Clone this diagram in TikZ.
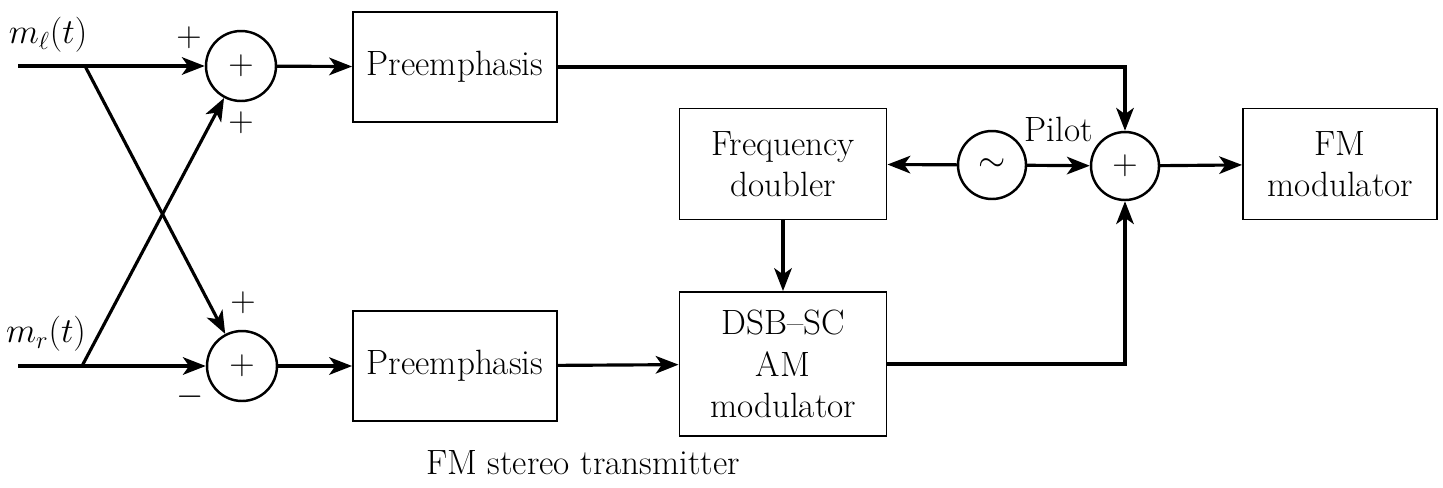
\RequirePackage{fix-cm}
\documentclass[tikz,border=0pt]{standalone}
\usepackage{amsmath}
\usetikzlibrary{arrows.meta, positioning, calc}

\tikzset{
    block/.style={draw=black, fill=white, line width=1.1pt, align=center},
    summer/.style={circle, draw=black, fill=white, line width=1.4pt, minimum size=1.4cm, inner sep=0pt},
    wire/.style={line width=1.8pt},
    sig/.style={wire, -{Stealth[length=13pt, width=10pt, inset=3.5pt]}},
}

\begin{document}
\begin{tikzpicture}[x=0.02cm, y=-0.02cm, font=\fontsize{20}{23.5}\selectfont]
    \useasboundingbox (0,0) rectangle (1443,487);

    %creates the inputs and the two adders
    \node (ml) at (48,35) {$m_\ell(t)$};%labels left channel
    \node (mr) at (46,334) {$m_r(t)$};%labels right channel
    \coordinate (inL) at (18,66);
    \coordinate (inR) at (18,366);
    \coordinate (bL) at (85,66);%branch point on m_l
    \coordinate (bR) at (82,366);%branch point on m_r
    \node (add1) [summer] at (241,66) {$+$};%draws sum (l+r)
    \node (add2) [summer] at (242,366) {$+$};%draws sum (l-r)

    %signs at the adder inputs
    \node (sgn1) at (189,38) {$+$};
    \node (sgn2) at (241,123) {$+$};
    \node (sgn3) at (243,303) {$+$};
    \node (sgn4) at (190,397) {$-$};

    %creates the blocks
    \node (pre1) [block, minimum width=4.08cm, minimum height=2.2cm] at (455,67) {Preemphasis};
    \node (pre2) [block, minimum width=4.08cm, minimum height=2.2cm] at (455,366) {Preemphasis};
    \node (dbl) [block, minimum width=4.14cm, minimum height=2.22cm] at (783,164) {Frequency\\doubler};
    \node (dsb) [block, minimum width=4.14cm, minimum height=2.88cm] at (783,364) {DSB--SC\\AM\\modulator};
    \node (osc) [summer, minimum size=1.36cm] at (992,165) {$\sim$};%draws pilot oscillator
    \node (add3) [summer, minimum size=1.36cm] at (1125,166) {$+$};%draws output adder
    \node (fm) [block, minimum width=3.88cm, minimum height=2.22cm] at (1340,164) {FM\\modulator};
    \node (title) at (583,463) {FM stereo transmitter};%caption

    %draws the matrix of the inputs
    \draw [sig] (inL) -- (add1);
    \draw [sig] (inR) -- (add2);
    \draw [sig] (bL) -- (add2);%m_l crossing down
    \draw [sig] (bR) -- (add1);%m_r crossing up

    %draws the signal paths
    \draw [sig] (add1) -- (pre1);
    \draw [sig] (add2) -- (pre2);
    \draw [sig] (pre1) -| (add3);
    \draw [sig] (pre2) -- (dsb);
    \draw [sig] (dbl) -- (dsb);
    \draw [sig] (osc) -- (dbl);
    \draw [sig] (osc) -- node[above=9pt]{Pilot} (add3);
    \draw [sig] (dsb) -| (add3);
    \draw [sig] (add3) -- (fm);
\end{tikzpicture}
\end{document}
